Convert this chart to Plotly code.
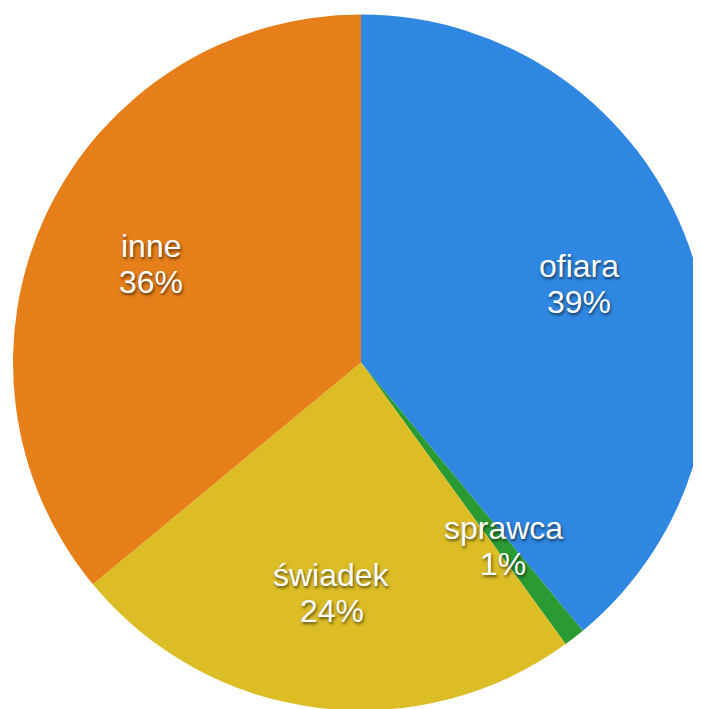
import math
import plotly.graph_objects as go

# Role shares (%)
labels = ["ofiara", "sprawca", "świadek", "inne"]
values = [39, 1, 24, 36]
colors = ["#2F87E1", "#2A9A33", "#DCBD26", "#E67F1A"]

W, H = 701, 709
M_LEFT = 5
LABEL_R = 2 / 3  # labels sit at 2/3 of the radius, mid-slice


def run():
    fig = go.Figure(go.Pie(
        labels=labels,
        values=values,
        sort=False,
        direction="clockwise",
        rotation=0,
        marker=dict(colors=colors, line=dict(width=0)),
        textinfo="none",
        hoverinfo="label+percent",
    ))

    # label positions follow each slice's middle angle
    pw, ph = W - M_LEFT, H
    radius = min(pw, ph) / 2
    total = sum(values)
    font = dict(family="Liberation Sans, Arial, sans-serif", size=32,
                color="white", shadow="1px 2px 3px rgba(0,0,0,0.6)")
    cum = 0
    for lab, v in zip(labels, values):
        mid = (cum + v / 2) / total * 2 * math.pi
        cum += v
        x = 0.5 + LABEL_R * radius * math.sin(mid) / pw
        y = 0.5 + LABEL_R * radius * math.cos(mid) / ph
        pct = f"{round(v / total * 100)}%"
        for txt, shift in ((lab, 18), (pct, -18)):
            fig.add_annotation(x=x, y=y, xref="paper", yref="paper",
                               xanchor="center", yanchor="middle",
                               text=txt, showarrow=False, yshift=shift,
                               font=font)

    fig.update_layout(
        width=W, height=H,
        margin=dict(l=M_LEFT, r=0, t=0, b=0),
        showlegend=False,
        paper_bgcolor="white",
    )
    fig.write_html("out.html")


if __name__ == "__main__":
    run()
